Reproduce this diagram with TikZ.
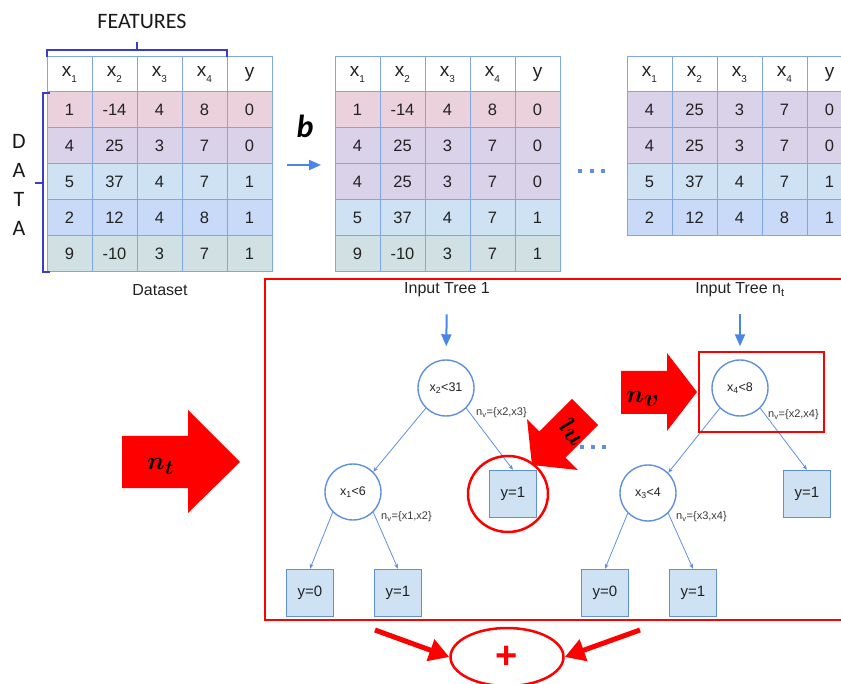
\documentclass[tikz,border=0pt]{standalone}
\usepackage{amsmath}
\usepackage{bm}
\usepackage{fontspec}
\setmainfont{Liberation Sans}
\newfontfamily\carlito{Carlito}
\usetikzlibrary{arrows.meta,shapes.geometric}

\definecolor{gridblue}{HTML}{7FA6E6}
\definecolor{bracecol}{HTML}{3C3CCB}
\definecolor{rowA}{HTML}{EAD1DC}
\definecolor{rowB}{HTML}{D9D2E9}
\definecolor{rowC}{HTML}{CFE2F3}
\definecolor{rowD}{HTML}{C9DAF8}
\definecolor{rowE}{HTML}{D0E0E3}
\definecolor{inkgray}{HTML}{222222}
\definecolor{labelgray}{HTML}{3A3A3A}
\definecolor{nodeblue}{HTML}{5F90E0}
\definecolor{leaffill}{HTML}{CFE2F3}
\definecolor{arrowblue}{HTML}{4A86E8}
\definecolor{hotred}{HTML}{FF0000}

% small lowered index used in the table headers
\newcommand{\lowidx}[1]{\raisebox{-0.3em}{\fontsize{10}{10}\selectfont #1}}

% #1 name prefix, #2 left edge, #3 rows as colour/v1/v2/v3/v4/v5
\newcommand{\datatable}[3]{%
  \foreach \hd [count=\k from 0] in {x\lowidx{1},x\lowidx{2},x\lowidx{3},x\lowidx{4},y}
    \node[hdcell] (#1-h\k) at ({#2+22.5+45*\k},74.5) {\hd};
  \foreach \rc/\va/\vb/\vc/\vd/\ve [count=\r] in {#3}{
    \foreach \v [count=\k from 0] in {\va,\vb,\vc,\vd,\ve}
      \node[datacell,fill=\rc] (#1-\r-\k) at ({#2+22.5+45*\k},{74+36*\r}) {\v};
  }%
}

\begin{document}
\begin{tikzpicture}[x=1pt,y=-1pt,
  hdcell/.style={draw=gridblue,line width=1pt,fill=white,minimum width=45pt,
    minimum height=35pt,inner sep=0pt,text=inkgray,font=\fontsize{19}{19}\selectfont},
  datacell/.style={draw=gridblue,line width=1pt,minimum width=45pt,
    minimum height=36pt,inner sep=0pt,text=inkgray,font=\fontsize{16.5}{16.5}\selectfont},
  bracestyle/.style={draw=bracecol,line width=2pt},
  titletext/.style={inner sep=0pt,text=inkgray,font=\fontsize{16}{16}\selectfont},
  splitnode/.style={circle,draw=nodeblue,line width=1.4pt,fill=white,minimum size=56pt,
    inner sep=0pt,text=inkgray,font=\fontsize{12.5}{12.5}\selectfont},
  leafnode/.style={rectangle,draw=nodeblue,line width=1.4pt,fill=leaffill,minimum size=47pt,
    inner sep=0pt,text=inkgray,font=\fontsize{15}{15}\selectfont},
  nvlabel/.style={anchor=west,inner sep=0pt,text=labelgray,font=\fontsize{11}{11}\selectfont},
  edgearrow/.style={draw=nodeblue,line width=0.8pt,-{Stealth[length=5pt,width=4pt]}},
  inarrow/.style={draw=arrowblue,line width=2pt,-{Triangle[length=12pt,width=10pt]}},
  redframe/.style={draw=hotred,line width=2.5pt},
  redarrow/.style={draw=hotred,line width=5pt,-{Triangle[length=20pt,width=22pt]}},
  bigmath/.style={inner sep=0pt,text=black},
  bluedot/.style={fill=nodeblue}
]
\useasboundingbox (0,0) rectangle (841,684);
\clip (0,0) rectangle (841,684);

% ---------- data tables ----------
\datatable{ta}{47}{rowA/1/-14/4/8/0,rowB/4/25/3/7/0,rowC/5/37/4/7/1,rowD/2/12/4/8/1,rowE/9/-10/3/7/1}
\datatable{tb}{335}{rowA/1/-14/4/8/0,rowB/4/25/3/7/0,rowB/4/25/3/7/0,rowC/5/37/4/7/1,rowE/9/-10/3/7/1}
\datatable{tc}{627}{rowB/4/25/3/7/0,rowB/4/25/3/7/0,rowC/5/37/4/7/1,rowD/2/12/4/8/1}

% braces and their captions
\draw[bracestyle] (47,57) -- (47,50) -- (227,50) -- (227,57);
\draw[bracestyle] (137,50) -- (137,42);
\draw[bracestyle] (50,93) -- (43,93) -- (43,272) -- (50,272);
\draw[bracestyle] (43,183) -- (35,183);
\node[inner sep=0pt,font=\carlito\fontsize{22}{22}\selectfont,text=black!90] (feat) at (142,21) {FEATURES};
\foreach \ch/\yy [count=\i] in {D/141,A/170,T/199,A/228}
  \node[inner sep=0pt,font=\carlito\fontsize{22}{22}\selectfont,text=black!90] (data\i) at (19,\yy) {\ch};
\node[titletext] (dset) at (160,290) {Dataset};

% bootstrap arrow
\coordinate (bs) at (287,165);
\coordinate (be) at (321,165);
\draw[inarrow] (bs) -- (be);
\node[inner sep=0pt,font=\carlito\bfseries\itshape\fontsize{32}{32}\selectfont] (bee) at (305,126) {b};

% dots between tables
\foreach \xx [count=\i] in {580,592,603}
  \fill[bluedot] (\xx-2,169) rectangle (\xx+2,173);

% ---------- forest frame ----------
\draw[redframe] (265,279) rectangle (870,620);

% tree 1
\node[titletext] (t1) at (447,290) {Input Tree 1};
\node[splitnode] (r1) at (446,388) {x\textsubscript{2}<31};
\node[splitnode] (c1) at (353,492) {x\textsubscript{1}<6};
\node[leafnode] (l1) at (513,494) {y=1};
\node[leafnode] (l2) at (310,593) {y=0};
\node[leafnode] (l3) at (398,593) {y=1};
\draw[inarrow,shorten <=17pt,shorten >=13pt] (t1.south) -- (r1.north);
\draw[edgearrow] (r1.-135) -- (c1.45);
\draw[edgearrow] (r1.-45) -- (l1.north);
\draw[edgearrow] (c1.-135) -- (l2.north);
\draw[edgearrow] (c1.-45) -- (l3.north);
\node[nvlabel] (v1) at (476,413) {n\textsubscript{v}=\{x2,x3\}};
\node[nvlabel] (v2) at (381,517) {n\textsubscript{v}=\{x1,x2\}};

% tree n_t
\node[titletext] (t2) at (740,290) {Input Tree n\textsubscript{t}};
\node[splitnode] (r2) at (740,388) {x\textsubscript{4}<8};
\node[splitnode] (c2) at (648,493) {x\textsubscript{3}<4};
\node[leafnode] (m1) at (807,494) {y=1};
\node[leafnode] (m2) at (605,593) {y=0};
\node[leafnode] (m3) at (693,593) {y=1};
\draw[inarrow,shorten <=17pt,shorten >=13pt] (t2.south) -- (r2.north);
\draw[edgearrow] (r2.-135) -- (c2.45);
\draw[edgearrow] (r2.-45) -- (m1.north);
\draw[edgearrow] (c2.-135) -- (m2.north);
\draw[edgearrow] (c2.-45) -- (m3.north);
\node[nvlabel] (v3) at (768,415) {n\textsubscript{v}=\{x2,x4\}};
\node[nvlabel] (v4) at (676,517) {n\textsubscript{v}=\{x3,x4\}};

% dots between the trees
\foreach \xx [count=\i] in {582,593,604}
  \fill[bluedot] (\xx-2,445) rectangle (\xx+2,449);

% highlights
\node[redframe,rectangle,minimum width=125pt,minimum height=80pt,inner sep=0pt] (sel) at (761.5,392) {};
\node[redframe,ellipse,minimum width=80pt,minimum height=76pt,inner sep=0pt] (ring) at (508,494) {};

% ---------- red block arrows ----------
\fill[hotred] (122,436) -- (188,436) -- (188,410) -- (240,462) -- (188,513) -- (188,488) -- (122,488) -- cycle;
\node[bigmath,anchor=base west,font=\fontsize{30}{30}\selectfont] (nt) at (147,470) {$\bm{n_t}$};

\fill[hotred] (621,371) -- (667,371) -- (667,353) -- (697,392) -- (667,431) -- (667,414) -- (621,414) -- cycle;
\node[bigmath,anchor=base west,font=\fontsize{34}{34}\selectfont] (nv) at (626,403) {$\bm{n_v}$};

\begin{scope}[shift={(585,412)},rotate=225]
  \fill[hotred] (0,-18.5) -- (46,-18.5) -- (46,-36) -- (75,0) -- (46,36) -- (46,18.5) -- (0,18.5) -- cycle;
\end{scope}
\node[bigmath,rotate=135,font=\fontsize{33}{33}\selectfont] (nl) at (572,431) {$\bm{n_l}$};

% ---------- aggregation ----------
\node[redframe,ellipse,minimum width=113pt,minimum height=58pt,inner sep=0pt,
  text=hotred,font=\bfseries\fontsize{38}{38}\selectfont] (sum) at (507,657) {+};
\coordinate (ls) at (375,630);
\coordinate (rs) at (640,630);
\draw[redarrow] (ls) -- (sum.west);
\draw[redarrow] (rs) -- (sum.east);
\end{tikzpicture}
\end{document}
